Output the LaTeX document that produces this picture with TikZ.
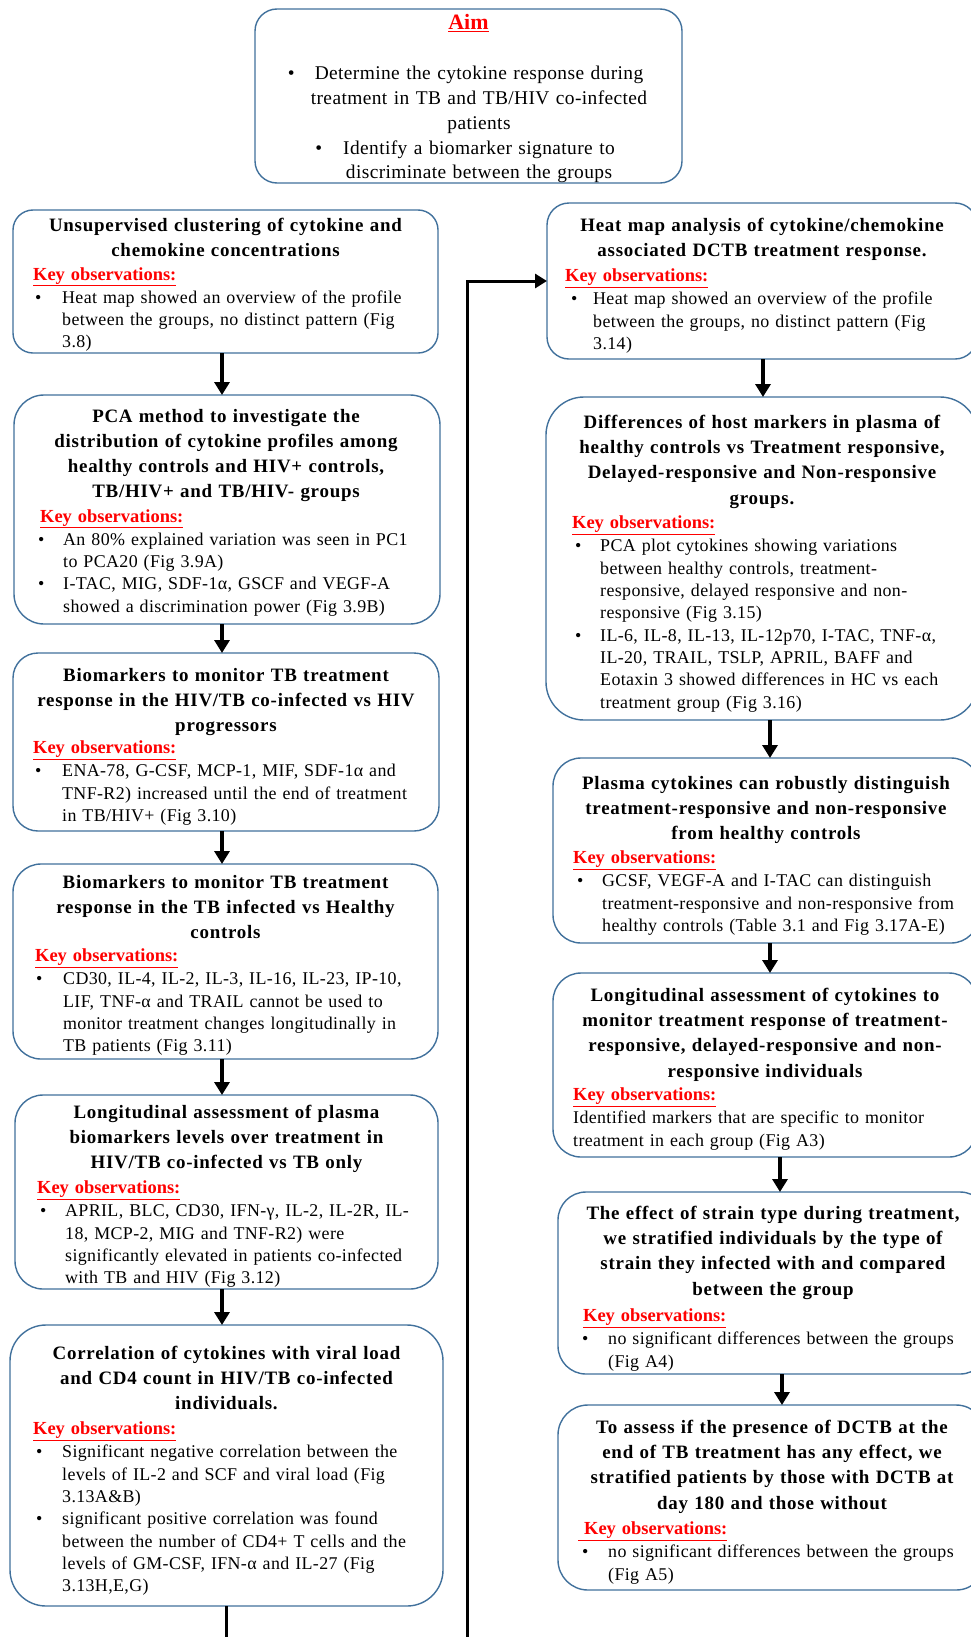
\documentclass[tikz,border=0pt]{standalone}
\usepackage{fontspec}
\setmainfont{Liberation Serif}
\newfontfamily\ttlfont[LetterSpace=4.0]{Liberation Serif}
\newfontfamily\bdyfont[LetterSpace=2.0]{Liberation Serif}
\usetikzlibrary{arrows.meta}
\definecolor{boxblue}{RGB}{65,113,156}
\definecolor{keyred}{RGB}{255,0,0}
\newlength\bo
\newlength\bt
\newcommand\bset[2]{\setlength\bo{#1bp}\setlength\bt{#2bp}}
\newcommand\nl{\hfil\break}
\newcommand\keyobs[1][]{{\rmfamily\bfseries\fontsize{18.5}{22.4}\selectfont\color{keyred}\underline{#1Key observations:}}\par\vspace{1bp}}
\newcommand\bul[1]{\par\begingroup\let\\\nl\hangindent=\bt\hangafter=1\noindent\makebox[\bt][l]{\hspace*{\bo}\textbullet}#1\par\endgroup}
\begin{document}
\begin{tikzpicture}[x=1bp,y=-1bp,
 panel/.style={draw=boxblue, line width=1.4bp, rounded corners=#1, inner sep=0pt, outer sep=0pt, anchor=north west, fill=white},
 ttl/.style={anchor=base, text width=440bp, align=center, inner sep=0pt, font=\ttlfont\bfseries\fontsize{19}{25.3}\selectfont},
 bodytxt/.style={anchor=base west, text width=440bp, align=left, inner sep=0pt, font=\bdyfont\fontsize{18}{22.4}\selectfont},
 arr/.style={line width=3.5bp, -{Triangle[width=15bp,length=13bp]}},
 longc/.style={line width=3bp, -{Triangle[width=14bp,length=12bp]}}]
\useasboundingbox (0,0) rectangle (970,1637);
\fill[white] (0,0) rectangle (970,1637);

% ---------- Aim ----------
\node[panel=22bp, minimum width=427bp, minimum height=174bp] (aim) at (255,9) {};
\node[anchor=base, inner sep=0pt, font=\bfseries\fontsize{22}{26}\selectfont, text=keyred] (aimh) at (468.5,30) {\underline{Aim}};
\node[anchor=base, text width=420bp, align=center, inner sep=0pt, font=\bdyfont\fontsize{19.5}{24.8}\selectfont] (aimt) at (479,80)
 {\leavevmode\llap{\textbullet\hspace{20bp}}Determine the cytokine response during\\treatment in TB and TB/HIV co-infected\\patients\\\leavevmode\llap{\textbullet\hspace{21bp}}Identify a biomarker signature to\\discriminate between the groups};

% ---------- Left column ----------
\node[panel=20bp, minimum width=425bp, minimum height=143bp] (L1) at (13,210) {};
\node[ttl] (L1h) at (225.5,231.5) {Unsupervised clustering of cytokine and\\chemokine concentrations};
\node[bodytxt] (L1b) at (33,280) {\bset{2}{29}\keyobs
 \bul{Heat map showed an overview of the profile\\between the groups, no distinct pattern (Fig\\3.8)}};

\node[panel=30bp, minimum width=426bp, minimum height=229bp] (L2) at (14,395) {};
\node[ttl] (L2h) at (226,422) {PCA method to investigate the\\distribution of cytokine profiles among\\healthy controls and HIV+ controls,\\TB/HIV+ and TB/HIV- groups};
\node[bodytxt] (L2b) at (40,522) {\bset{-2}{23}\keyobs
 \bul{An 80\% explained variation was seen in PC1\\to PCA20 (Fig 3.9A)}
 \bul{I-TAC, MIG, SDF-1α, GSCF and VEGF-A\\showed a discrimination power (Fig 3.9B)}};

\node[panel=25bp, minimum width=426bp, minimum height=178bp] (L3) at (13,653) {};
\node[ttl] (L3h) at (226,681.5) {Biomarkers to monitor TB treatment\\response in the HIV/TB co-infected vs HIV\\progressors};
\node[bodytxt] (L3b) at (33,753.5) {\bset{2}{29}\keyobs
 \bul{ENA-78, G-CSF, MCP-1, MIF, SDF-1α and\\TNF-R2) increased until the end of treatment\\in TB/HIV+ (Fig 3.10)}};

\node[panel=28bp, minimum width=425bp, minimum height=195bp] (L4) at (13,864) {};
\node[ttl] (L4h) at (225.5,888.5) {Biomarkers to monitor TB treatment\\response in the TB infected vs Healthy\\controls};
\node[bodytxt] (L4b) at (35,961.5) {\bset{1}{28}\keyobs
 \bul{CD30, IL-4, IL-2, IL-3, IL-16, IL-23, IP-10,\\LIF, TNF-α and TRAIL cannot be used to\\monitor treatment changes longitudinally in\\TB patients (Fig 3.11)}};

\node[panel=28bp, minimum width=423bp, minimum height=194bp] (L5) at (15,1095) {};
\node[ttl] (L5h) at (226.5,1118.5) {Longitudinal assessment of plasma\\biomarkers levels over treatment in\\HIV/TB co-infected vs TB only};
\node[bodytxt] (L5b) at (37,1193.5) {\bset{3}{28}\keyobs
 \bul{APRIL, BLC, CD30, IFN-γ, IL-2, IL-2R, IL-\\18, MCP-2, MIG and TNF-R2) were\\significantly elevated in patients co-infected\\with TB and HIV (Fig 3.12)}};

\node[panel=36bp, minimum width=433bp, minimum height=281bp] (L6) at (10,1325) {};
\node[ttl] (L6h) at (226.5,1359.5) {Correlation of cytokines with viral load\\and CD4 count in HIV/TB co-infected\\individuals.};
\node[bodytxt] (L6b) at (33,1434.5) {\bset{3}{29}\keyobs
 \bul{Significant negative correlation between the\\levels of IL-2 and SCF and viral load (Fig\\3.13A\&B)}
 \bul{significant positive correlation was found\\between the number of CD4+ T cells and the\\levels of GM-CSF, IFN-α and IL-27 (Fig\\3.13H,E,G)}};

% ---------- Right column ----------
\node[panel=22bp, minimum width=430bp, minimum height=156bp] (R1) at (547,203) {};
\node[ttl] (R1h) at (762,231.5) {Heat map analysis of cytokine/chemokine\\associated DCTB treatment response.};
\node[bodytxt] (R1b) at (565,281.5) {\bset{6}{28}\keyobs
 \bul{Heat map showed an overview of the profile\\between the groups, no distinct pattern (Fig\\3.14)}};

\node[panel=38bp, minimum width=432bp, minimum height=323bp] (R2) at (546,397) {};
\node[ttl] (R2h) at (762,428.5) {Differences of host markers in plasma of\\healthy controls vs Treatment responsive,\\Delayed-responsive and Non-responsive\\groups.};
\node[bodytxt] (R2b) at (572,528.5) {\bset{3}{28}\keyobs
 \bul{PCA plot cytokines showing variations\\between healthy controls, treatment-\\responsive, delayed responsive and non-\\responsive (Fig 3.15)}
 \bul{IL-6, IL-8, IL-13, IL-12p70, I-TAC, TNF-α,\\IL-20, TRAIL, TSLP, APRIL, BAFF and\\Eotaxin 3 showed differences in HC vs each\\treatment group (Fig 3.16)}};

\node[panel=28bp, minimum width=426bp, minimum height=185bp] (R3) at (553,758) {};
\node[ttl] (R3h) at (766,789.5) {Plasma cytokines can robustly distinguish\\treatment-responsive and non-responsive\\from healthy controls};
\node[bodytxt] (R3b) at (573,863.5) {\bset{4}{29}\keyobs
 \bul{GCSF, VEGF-A and I-TAC can distinguish\\treatment-responsive and non-responsive from\\healthy controls (Table 3.1 and Fig 3.17A-E)}};

\node[panel=28bp, minimum width=424bp, minimum height=184bp] (R4) at (553,973) {};
\node[ttl] (R4h) at (765,1001.5) {Longitudinal assessment of cytokines to\\monitor treatment response of treatment-\\responsive, delayed-responsive and non-\\responsive individuals};
\node[bodytxt] (R4b) at (573,1100.5) {\keyobs
 Identified markers that are specific to monitor\\treatment in each group (Fig A3)};

\node[panel=28bp, minimum width=430bp, minimum height=182bp] (R5) at (558,1192) {};
\node[ttl] (R5h) at (773,1219.5) {The effect of strain type during treatment,\\we stratified individuals by the type of\\strain they infected with and compared\\between the group};
\node[bodytxt] (R5b) at (583,1321.5) {\bset{-1}{25}\keyobs
 \bul{no significant differences between the groups\\(Fig A4)}};

\node[panel=30bp, minimum width=428bp, minimum height=185bp] (R6) at (558,1405) {};
\node[ttl] (R6h) at (772,1433.5) {To assess if the presence of DCTB at the\\end of TB treatment has any effect, we\\stratified patients by those with DCTB at\\day 180 and those without};
\node[bodytxt] (R6b) at (578,1534.5) {\bset{4}{30}\keyobs[\ ]
 \bul{no significant differences between the groups\\(Fig A5)}};

% ---------- connectors ----------
\coordinate (ax) at (222,0);
\draw[arr] (L1.south -| ax) -- (L2.north -| ax);
\draw[arr] (L2.south -| ax) -- (L3.north -| ax);
\draw[arr] (L3.south -| ax) -- (L4.north -| ax);
\draw[arr] (L4.south -| ax) -- (L5.north -| ax);
\draw[arr] (L5.south -| ax) -- (L6.north -| ax);

\coordinate (r1x) at (763,0);
\coordinate (r2x) at (770,0);
\coordinate (r4x) at (780,0);
\coordinate (r5x) at (782,0);
\draw[arr] (R1.south -| r1x) -- (R2.north -| r1x);
\draw[arr] (R2.south -| r2x) -- (R3.north -| r2x);
\draw[arr] (R3.south -| r2x) -- (R4.north -| r2x);
\draw[arr] (R4.south -| r4x) -- (R5.north -| r4x);
\draw[arr] (R5.south -| r5x) -- (R6.north -| r5x);

\coordinate (lowpt) at (467,1700);
\draw[longc] (L6.south) |- (lowpt) -- (lowpt |- R1.west) -- (R1.west);
\end{tikzpicture}
\end{document}
